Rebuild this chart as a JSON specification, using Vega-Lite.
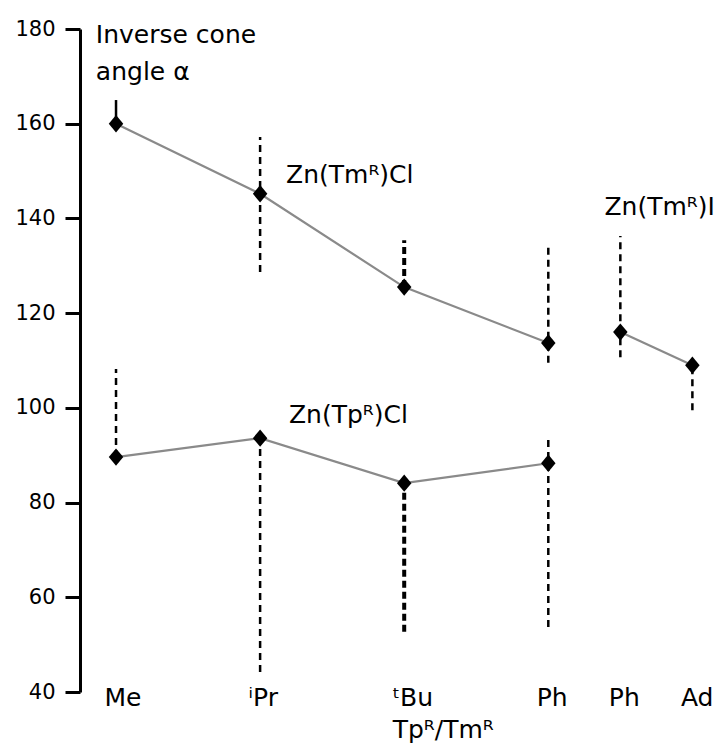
{
  "$schema": "https://vega.github.io/schema/vega-lite/v6.json",
  "width": 634,
  "height": 663,
  "autosize": {"type": "none"},
  "padding": {"left": 80, "top": 29, "right": 1, "bottom": 55},
  "background": "white",
  "config": {
    "view": {"stroke": null},
    "font": "DejaVu Sans",
    "axis": {"grid": false, "labelFont": "DejaVu Sans", "labelColor": "black", "titleFont": "DejaVu Sans"}
  },
  "datasets": {
    "points": [
      {"series": "Zn(TmR)Cl", "sub": "Me", "pos": 0, "angle": 160.0},
      {"series": "Zn(TmR)Cl", "sub": "iPr", "pos": 2, "angle": 145.2},
      {"series": "Zn(TmR)Cl", "sub": "tBu", "pos": 4, "angle": 125.5},
      {"series": "Zn(TmR)Cl", "sub": "Ph", "pos": 6, "angle": 113.7},
      {"series": "Zn(TmR)I", "sub": "Ph", "pos": 7, "angle": 116.0},
      {"series": "Zn(TmR)I", "sub": "Ad", "pos": 8, "angle": 109.0},
      {"series": "Zn(TpR)Cl", "sub": "Me", "pos": 0, "angle": 89.6},
      {"series": "Zn(TpR)Cl", "sub": "iPr", "pos": 2, "angle": 93.6},
      {"series": "Zn(TpR)Cl", "sub": "tBu", "pos": 4, "angle": 84.1},
      {"series": "Zn(TpR)Cl", "sub": "Ph", "pos": 6, "angle": 88.3}
    ],
    "ranges": [
      {"series": "Zn(TmR)Cl", "sub": "Me", "pos": 0, "lo": 160.0, "hi": 165.0},
      {"series": "Zn(TmR)Cl", "sub": "iPr", "pos": 2, "lo": 128.7, "hi": 157.2},
      {"series": "Zn(TmR)Cl", "sub": "tBu", "pos": 4, "lo": 125.5, "hi": 135.4},
      {"series": "Zn(TmR)Cl", "sub": "Ph", "pos": 6, "lo": 109.5, "hi": 134.0},
      {"series": "Zn(TmR)I", "sub": "Ph", "pos": 7, "lo": 110.7, "hi": 136.3},
      {"series": "Zn(TmR)I", "sub": "Ad", "pos": 8, "lo": 99.5, "hi": 109.0},
      {"series": "Zn(TpR)Cl", "sub": "Me", "pos": 0, "lo": 89.6, "hi": 108.2},
      {"series": "Zn(TpR)Cl", "sub": "iPr", "pos": 2, "lo": 44.2, "hi": 93.6},
      {"series": "Zn(TpR)Cl", "sub": "tBu", "pos": 4, "lo": 52.7, "hi": 84.1},
      {"series": "Zn(TpR)Cl", "sub": "Ph", "pos": 6, "lo": 53.7, "hi": 94.0}
    ],
    "notes": [
      {"text": "Inverse cone", "pos": -0.28, "angle": 177.0},
      {"text": "angle α", "pos": -0.28, "angle": 169.2},
      {"text": "Zn(Tmᴿ)Cl", "pos": 2.36, "angle": 147.5},
      {"text": "Zn(Tmᴿ)I", "pos": 6.78, "angle": 140.7},
      {"text": "Zn(Tpᴿ)Cl", "pos": 2.4, "angle": 96.8}
    ]
  },
  "encoding": {
    "x": {
      "field": "pos", "type": "quantitative",
      "scale": {"domain": [-0.5, 8.3], "nice": false, "zero": false},
      "axis": {
        "title": null, "domain": false, "ticks": false,
        "values": [0, 2, 4, 6, 7, 8],
        "labelExpr": "datum.value == 0 ? 'Me' : datum.value == 2 ? 'ⁱPr' : datum.value == 4 ? ['ᵗBu', 'Tpᴿ/Tmᴿ'] : (datum.value == 6 || datum.value == 7) ? 'Ph' : 'Ad'",
        "labelAlign": "left", "labelOffset": -12, "labelPadding": 13,
        "labelBaseline": "alphabetic", "labelFontSize": 25, "labelLineHeight": 32,
        "labelFlush": false, "labelOverlap": false
      }
    }
  },
  "layer": [
    {
      "data": {"name": "points"},
      "mark": {"type": "line", "color": "#8a8a8a", "strokeWidth": 2.2},
      "encoding": {
        "y": {
          "field": "angle", "type": "quantitative",
          "scale": {"domain": [40, 180], "nice": false, "zero": false},
          "axis": {
            "title": null, "values": [40, 60, 80, 100, 120, 140, 160, 180],
            "domainColor": "black", "domainWidth": 3,
            "tickColor": "black", "tickWidth": 3, "tickSize": 15,
            "labelFontSize": 21, "labelPadding": 10
          }
        },
        "detail": {"field": "series"}
      }
    },
    {
      "data": {"name": "ranges"},
      "transform": [{"filter": "datum.sub != 'tBu' && !(datum.sub == 'Me' && datum.series == 'Zn(TmR)Cl')"}],
      "mark": {"type": "rule", "color": "black", "strokeWidth": 2.5, "strokeDash": [7, 5]},
      "encoding": {"y": {"field": "lo", "type": "quantitative"}, "y2": {"field": "hi"}}
    },
    {
      "data": {"name": "ranges"},
      "transform": [{"filter": "datum.sub == 'tBu'"}],
      "mark": {"type": "rule", "color": "black", "strokeWidth": 4, "strokeDash": [7, 4]},
      "encoding": {"y": {"field": "lo", "type": "quantitative"}, "y2": {"field": "hi"}}
    },
    {
      "data": {"name": "ranges"},
      "transform": [{"filter": "datum.sub == 'Me' && datum.series == 'Zn(TmR)Cl'"}],
      "mark": {"type": "rule", "color": "black", "strokeWidth": 2.5},
      "encoding": {"y": {"field": "lo", "type": "quantitative"}, "y2": {"field": "hi"}}
    },
    {
      "data": {"name": "points"},
      "mark": {"type": "point", "shape": "M0,-1.2L1,0L0,1.2L-1,0Z", "filled": true, "color": "black", "opacity": 1, "size": 210},
      "encoding": {"y": {"field": "angle", "type": "quantitative"}}
    },
    {
      "data": {"name": "notes"},
      "mark": {"type": "text", "align": "left", "baseline": "alphabetic", "fontSize": 25, "color": "black", "font": "DejaVu Sans"},
      "encoding": {"y": {"field": "angle", "type": "quantitative"}, "text": {"field": "text"}}
    }
  ]
}
